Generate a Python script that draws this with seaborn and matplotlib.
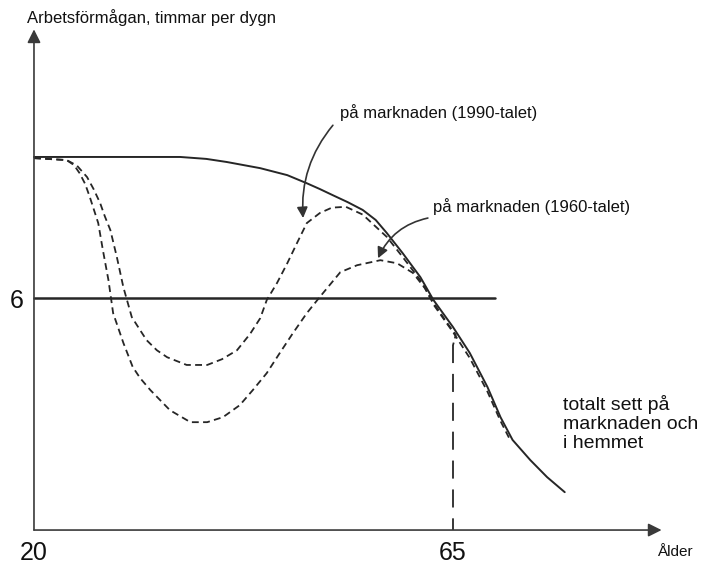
# -*- coding: utf-8 -*-
"""
Arbetsförmåga över livet: totalt och på marknaden (1960- resp. 1990-talet)
"""
import matplotlib
matplotlib.use("Agg")
import matplotlib.pyplot as plt
import seaborn as sns

sns.set_theme(style="white")
plt.rcParams['font.family'] = ['Liberation Sans', 'DejaVu Sans']

###############################################################################
#Data (age in years, capacity in hours per day)
###############################################################################
ages_total = [20.0, 27.1, 35.7, 38.5, 40.7, 44.3, 47.2, 49.3, 50.7, 52.1, 53.7, 55.3,
              56.7, 57.9, 59.6, 61.5, 62.9, 65.0, 66.8, 68.7, 70.1, 71.4, 73.3,
              75.1, 77.0]
hours_total = [9.65, 9.65, 9.65, 9.60, 9.52, 9.36, 9.18, 8.97, 8.82, 8.66, 8.48, 8.28,
               8.02, 7.68, 7.16, 6.54, 5.95, 5.25, 4.58, 3.70, 2.92, 2.33, 1.81,
               1.37, 0.98]

ages_1990 = [20.0, 23.5, 24.6, 25.7, 26.4, 27.1, 27.6, 28.2, 28.9, 29.6, 30.5, 31.4,
             32.1, 33.2, 34.3, 36.4, 38.6, 40.2, 41.8, 43.2, 44.3, 45.0, 46.1, 47.2,
             48.3, 49.3, 50.7, 52.0, 53.5, 55.3, 57.9, 59.6, 61.5, 62.9, 64.3, 65.3,
             65.0]
hours_1990 = [9.62, 9.57, 9.43, 9.13, 8.82, 8.46, 8.12, 7.76, 7.06, 6.28, 5.51, 5.17,
              4.91, 4.65, 4.47, 4.27, 4.27, 4.42, 4.65, 5.07, 5.48, 5.95, 6.39, 6.90,
              7.45, 7.94, 8.20, 8.34, 8.36, 8.16, 7.58, 7.06, 6.46, 5.88, 5.38, 5.05,
              4.78]

ages_1960 = [20.0, 23.5, 24.3, 24.9, 25.5, 26.0, 26.9, 27.4, 28.0, 28.5, 29.6, 30.6,
             31.4, 32.5, 34.6, 36.8, 38.6, 40.3, 42.1, 43.5, 45.0, 46.4, 47.8, 49.3,
             50.7, 52.9, 54.7, 57.2, 59.0, 60.7, 62.0, 63.0, 65.0, 66.8, 68.7, 70.1,
             71.2]
hours_1960 = [9.62, 9.57, 9.44, 9.23, 8.95, 8.61, 7.94, 7.24, 6.46, 5.61, 4.84, 4.22,
              3.93, 3.62, 3.10, 2.79, 2.79, 2.92, 3.23, 3.62, 4.06, 4.58, 5.09, 5.61,
              6.03, 6.67, 6.85, 6.98, 6.90, 6.65, 6.25, 5.80, 5.12, 4.45, 3.58, 2.82,
              2.30]

# pension at 65 (drop of market hours) and the 6 hour reference level
ages_pension = [65.0, 65.0]
hours_pension = [4.78, 0.0]
ages_six = [20.0, 69.5]
hours_six = [6.0, 6.0]

x_ticks = [20, 65]
x_ticklabels = ['20', '65']
y_ticks = [6]
y_ticklabels = ['6']

###############################################################################
#Plot
###############################################################################
fig = plt.figure(figsize=(7.14, 5.66), dpi=100)
ax = fig.add_axes([0, 0, 1, 1])
ax.set_xlim(16.35, 93.03)
ax.set_ylim(-0.93, 13.71)
ax.axis('off')

ink = '#262626'
sns.lineplot(x=ages_total, y=hours_total, sort=False, estimator=None, ax=ax,
             color=ink, lw=1.4)
sns.lineplot(x=ages_1990, y=hours_1990, sort=False, estimator=None, ax=ax,
             color=ink, lw=1.3, linestyle=(0, (3.8, 2.4)))
sns.lineplot(x=ages_1960, y=hours_1960, sort=False, estimator=None, ax=ax,
             color=ink, lw=1.3, linestyle=(0, (3.8, 2.4)))
sns.lineplot(x=ages_pension, y=hours_pension, sort=False, estimator=None, ax=ax,
             color=ink, lw=1.3, linestyle=(0, (10, 6)))
sns.lineplot(x=ages_six, y=hours_six, sort=False, estimator=None, ax=ax,
             color=ink, lw=1.8)

# axes with arrow heads
axis_kw = dict(arrowstyle='-|>', color='#3a3a3a', lw=1.2, mutation_scale=20,
               shrinkA=0, shrinkB=0)
ax.annotate('', xy=(20, 12.95), xytext=(20, 0), arrowprops=axis_kw)
ax.annotate('', xy=(87.4, 0), xytext=(20, 0), arrowprops=axis_kw)

for t, lab in zip(x_ticks, x_ticklabels):
    ax.text(t, -0.78, lab, fontsize=18, ha='center', va='baseline', color='#111')
for t, lab in zip(y_ticks, y_ticklabels):
    ax.text(18.85, t - 0.26, lab, fontsize=18, ha='right', va='baseline', color='#111')

ax.text(19.25, 13.12, 'Arbetsförmågan, timmar per dygn', fontsize=12,
        ha='left', va='baseline', color='#111')
ax.text(86.9, -0.67, 'Ålder', fontsize=11, ha='left', va='baseline', color='#111')

# annotations with curved arrows
ann_kw = dict(arrowstyle='-|>', color='#333333', lw=1.2, mutation_scale=16,
              shrinkA=0, shrinkB=0)
ax.text(52.9, 10.65, 'på marknaden (1990-talet)', fontsize=12, ha='left',
        va='baseline', color='#111')
ax.annotate('', xy=(48.9, 8.07), xytext=(52.1, 10.47),
            arrowprops=dict(ann_kw, connectionstyle='arc3,rad=0.2'))
ax.text(62.85, 8.22, 'på marknaden (1960-talet)', fontsize=12, ha='left',
        va='baseline', color='#111')
ax.annotate('', xy=(56.95, 7.03), xytext=(62.3, 8.07),
            arrowprops=dict(ann_kw, connectionstyle='arc3,rad=0.25'))

ax.text(76.8, 3.5, 'totalt sett på\nmarknaden och\ni hemmet', fontsize=14,
        ha='left', va='top', linespacing=1.15, color='#111')

fig.savefig('out.png', dpi=100)
